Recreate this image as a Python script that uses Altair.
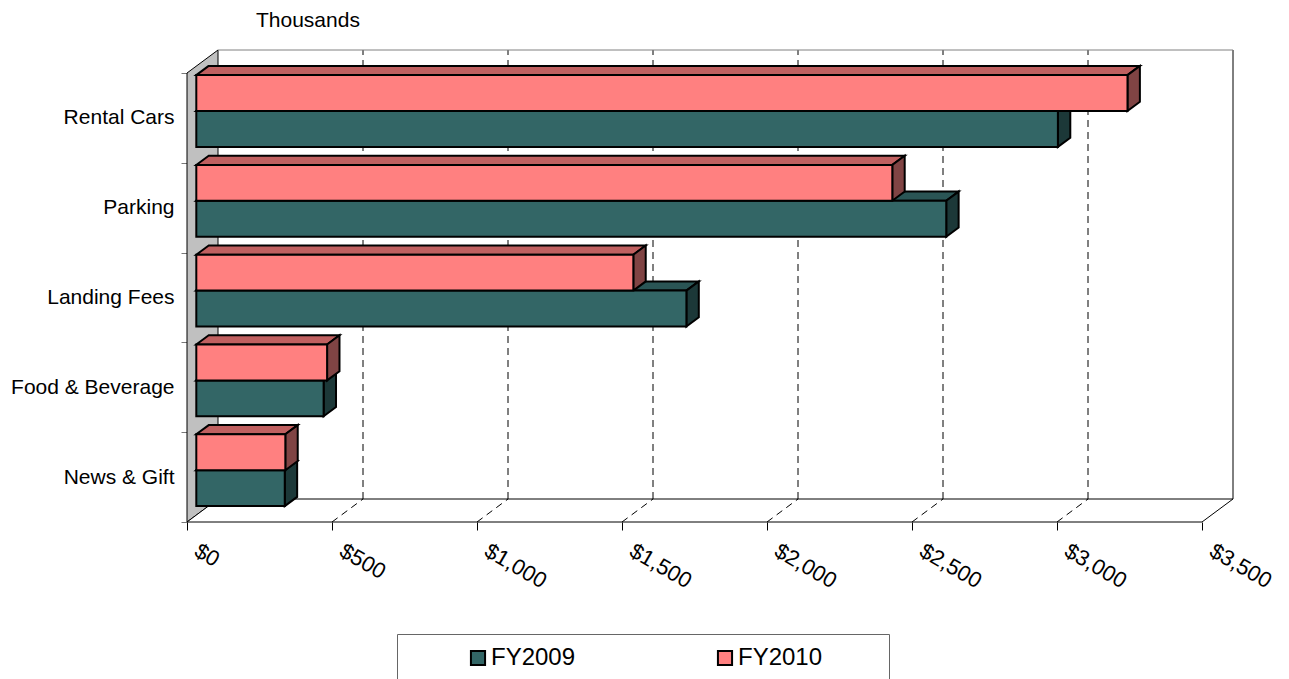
import json

import altair as alt
import pandas as pd

# ---- data -----------------------------------------------------------------
categories = ["News & Gift", "Food & Beverage", "Landing Fees", "Parking", "Rental Cars"]
fy2009 = [305, 439, 1690, 2586, 2971]
fy2010 = [307, 451, 1507, 2400, 3211]
series_names = ["FY2009", "FY2010"]
x_ticks = [0, 500, 1000, 1500, 2000, 2500, 3000, 3500]
units_label = ["Thousands"]

# ---- 3-D box layout (pixels) ----------------------------------------------
FONT = "Liberation Sans"
FRONT_W = 1015               # width of the front floor edge
DEPTH_X, DEPTH_Y = 31, 23    # oblique depth offset
W = FRONT_W + DEPTH_X
H = 472
FRONT_H = H - DEPTH_Y
X_END = x_ticks[-1]
PX_PER_UNIT = FRONT_W / X_END
DX = DEPTH_X / PX_PER_UNIT   # depth offset in value units
BAND = FRONT_H / len(categories)
BAR = 0.4 * BAND             # thickness of one series bar
F_NEAR, F_FAR = 0.3, 0.7     # bar front / back planes as fraction of depth

FACE = {
    "FY2009": {"front": "#336666", "top": "#2A5555", "side": "#1C3838"},
    "FY2010": {"front": "#FF8080", "top": "#C06060", "side": "#804444"},
}

front_rows, top_rows, side_rows = [], [], []
for s, vals in zip(series_names, [fy2009, fy2010]):
    for i, (cat, v) in enumerate(zip(categories, vals)):
        c = (i + 0.5) * BAND
        yb, yt = (c - BAR, c) if s == "FY2009" else (c, c + BAR)
        front_rows.append(dict(series=s, category=cat,
                               x0=F_NEAR * DX, x1=v + F_NEAR * DX,
                               y0=yb + F_NEAR * DEPTH_Y, y1=yt + F_NEAR * DEPTH_Y))
        for f in (F_NEAR, F_FAR):
            top_rows.append(dict(series=s, category=cat, yy=yt + f * DEPTH_Y,
                                 xa=f * DX, xb=v + f * DX))
            side_rows.append(dict(series=s, category=cat, xx=v + f * DX,
                                  ya=yb + f * DEPTH_Y, yb=yt + f * DEPTH_Y))
front_df = pd.DataFrame(front_rows)
top_df = pd.DataFrame(top_rows)
side_df = pd.DataFrame(side_rows)

# walls / floor
side_wall = pd.DataFrame({"x": [0, DX], "y": [0, DEPTH_Y], "y2": [FRONT_H, H]})
floor = pd.DataFrame({"y": [0, DEPTH_Y], "x": [0, DX], "x2": [X_END, X_END + DX]})
inner = [t for t in x_ticks if 0 < t < X_END]
floor_grid = pd.DataFrame({"x": inner, "x2": [t + DX for t in inner],
                           "y": [0] * len(inner), "y2": [DEPTH_Y] * len(inner)})
wall_grid = pd.DataFrame({"x": [t + DX for t in inner]})
wall_edge = pd.DataFrame({"x": [X_END + DX]})
wall_top = pd.DataFrame({"x": [DX], "x2": [X_END + DX], "y": [H]})

# ---- scales & axes --------------------------------------------------------
xs = alt.Scale(domain=[0, X_END + DX], nice=False, zero=False)
ys = alt.Scale(domain=[0, H], nice=False, zero=False)

x_axis = alt.Axis(values=x_ticks, format="$,.0f", labelAngle=30, labelAlign="left",
                  labelBaseline="top", labelPadding=10, labelOffset=14, tickSize=8,
                  tickColor="black", domain=False, grid=False, title=None,
                  labelFont=FONT, labelFontSize=22, labelColor="black",
                  labelFlush=False, labelOverlap=False)
label_expr = "%s[round(datum.value / %.6f)] || ''" % (json.dumps(categories), BAND)
y_axis = alt.Axis(values=[i * BAND for i in range(len(categories) + 1)],
                  labelExpr=label_expr, labelOffset=-BAND / 2, labelPadding=7,
                  tickSize=6, tickColor="#777777", domain=False, grid=False,
                  title=None, labelFont=FONT, labelFontSize=21, labelColor="black",
                  labelBaseline="middle", labelAlign="right",
                  labelFlush=False, labelOverlap=False)


def X(field):
    return alt.X(field, type="quantitative", scale=xs, axis=x_axis)


def Y(field):
    return alt.Y(field, type="quantitative", scale=ys, axis=y_axis)


layers = []

# grey left wall
layers.append(alt.Chart(side_wall).mark_area(orient="vertical", fill="#C0C0C0",
                                              stroke="black", strokeWidth=1)
              .encode(x=X("x"), y=Y("y"), y2="y2"))
# floor
layers.append(alt.Chart(floor).mark_area(orient="horizontal", fill="white",
                                          stroke="black", strokeWidth=1)
              .encode(y=Y("y"), x=X("x"), x2="x2"))
# dashed depth lines on the floor
layers.append(alt.Chart(floor_grid).mark_rule(color="black", strokeWidth=1,
                                               strokeDash=[7, 5])
              .encode(x=X("x"), x2="x2", y=Y("y"), y2="y2"))
# dashed gridlines on the back wall
layers.append(alt.Chart(wall_grid).mark_rule(color="black", strokeWidth=1,
                                              strokeDash=[7, 5])
              .encode(x=X("x"), y=alt.datum(DEPTH_Y, scale=ys, axis=y_axis),
                      y2=alt.datum(H)))
# back wall right edge and top edge
layers.append(alt.Chart(wall_edge).mark_rule(color="black", strokeWidth=1)
              .encode(x=X("x"), y=alt.datum(DEPTH_Y, scale=ys, axis=y_axis),
                      y2=alt.datum(H)))
layers.append(alt.Chart(wall_top).mark_rule(color="#808080", strokeWidth=1)
              .encode(x=X("x"), x2="x2", y=Y("y")))

# bar top and side faces, back series first
for s in series_names:
    layers.append(alt.Chart(top_df).transform_filter(alt.datum.series == s)
                  .mark_area(orient="horizontal", fill=FACE[s]["top"], stroke="black",
                             strokeWidth=2)
                  .encode(y=Y("yy"), x=X("xa"), x2="xb", detail="category:N"))
    layers.append(alt.Chart(side_df).transform_filter(alt.datum.series == s)
                  .mark_area(orient="vertical", fill=FACE[s]["side"], stroke="black",
                             strokeWidth=2)
                  .encode(x=X("xx"), y=Y("ya"), y2="yb", detail="category:N"))

# bar front faces with the legend (blank braille cells widen each legend entry)
legend = alt.Legend(orient="none", legendX=210, legendY=584, direction="horizontal",
                    title=None, strokeColor="#666666", padding=12, symbolType="square",
                    symbolSize=200, symbolStrokeColor="black", symbolStrokeWidth=2,
                    symbolOffset=57, labelOffset=1, labelFont=FONT, labelFontSize=24,
                    labelColor="black", columnPadding=26, labelLimit=400,
                    labelExpr="datum.label + '\u2800\u2800\u2800'")
layers.append(alt.Chart(front_df).mark_rect(stroke="black", strokeWidth=2)
              .encode(x=X("x0"), x2="x1", y=Y("y0"), y2="y1",
                      fill=alt.Fill("series:N",
                                    scale=alt.Scale(domain=series_names,
                                                    range=[FACE[s]["front"] for s in series_names]),
                                    legend=legend)))

# display-units caption above the plot
layers.append(alt.Chart(pd.DataFrame({"t": units_label}))
              .mark_text(align="left", baseline="alphabetic", font=FONT, fontSize=21,
                         color="black")
              .encode(text="t:N", x=alt.value(69), y=alt.value(-23)))

chart = (
    alt.layer(*layers)
    .properties(
        width=W, height=H,
        autosize=alt.AutoSizeParams(type="none"),
        padding={"left": 187, "top": 50, "right": 1289 - 187 - W, "bottom": 679 - 50 - H},
        background="white",
    )
    .configure_view(stroke=None)
)

chart.save("out.html", embed_options={"renderer": "svg", "actions": False})
